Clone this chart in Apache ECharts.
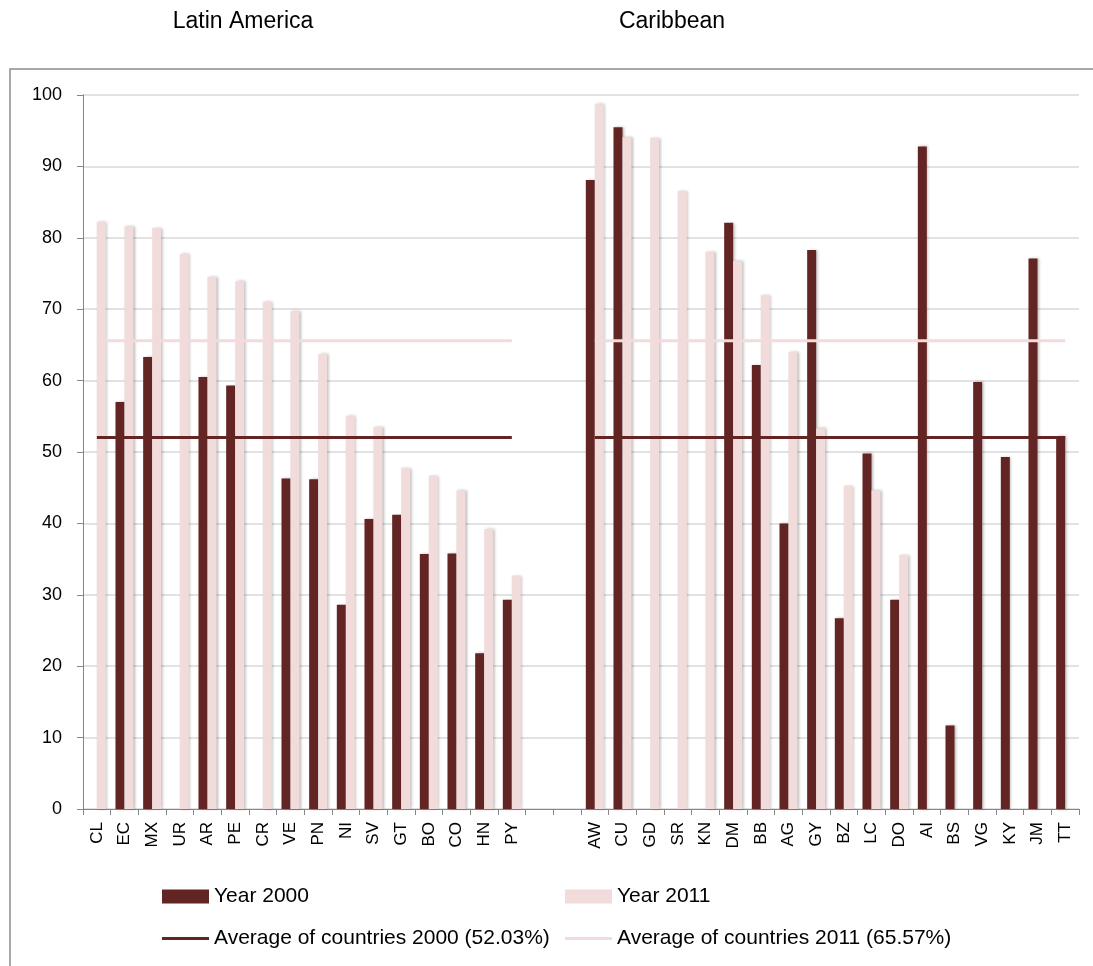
<!DOCTYPE html>
<html>
<head>
<meta charset="utf-8">
<title>Latin America and Caribbean, 2000 vs 2011</title>
<script src="https://cdn.jsdelivr.net/npm/echarts@6/dist/echarts.min.js"></script>
<style>
  html, body { margin: 0; padding: 0; background: #ffffff; }
  #chart { width: 1093px; height: 966px; }
</style>
</head>
<body>
<div id="chart"></div>
<script>
// Country codes, left block (Latin America) and right block (Caribbean)
const latinCountries = ['CL','EC','MX','UR','AR','PE','CR','VE','PN','NI','SV','GT','BO','CO','HN','PY'];
const caribCountries = ['AW','CU','GD','SR','KN','DM','BB','AG','GY','BZ','LC','DO','AI','BS','VG','KY','JM','TT'];

// Values (%) per country, null where no bar is drawn
const latin2000 = [null, 57.0, 63.3, null, 60.5, 59.3, null, 46.3, 46.2, 28.6, 40.6, 41.2, 35.7, 35.8, 21.8, 29.3];
const latin2011 = [82.2, 81.6, 81.4, 77.7, 74.5, 73.9, 71.0, 69.7, 63.7, 55.0, 53.5, 47.8, 46.7, 44.6, 39.2, 32.7];
const carib2000 = [88.1, 95.5, null, null, null, 82.1, 62.2, 40.0, 78.3, 26.7, 49.8, 29.3, 92.8, 11.7, 59.8, 49.3, 77.1, 52.2];
const carib2011 = [98.7, 94.1, 94.0, 86.6, 78.0, 76.7, 72.0, 64.0, 53.3, 45.3, 44.6, 35.6, null, null, null, null, null, null];

// Averages across countries
const avg2000 = 52.03;
const avg2011 = 65.57;

// Y axis scale
const yTicks = { min: 0, max: 100, interval: 10 };

// Two empty slots separate the blocks
const gapSlots = [' ', '  '];
const gapNulls = gapSlots.map(() => null);

const categories = latinCountries.concat(gapSlots, caribCountries);
const values2000 = latin2000.concat(gapNulls, carib2000);
const values2011 = latin2011.concat(gapNulls, carib2011);
const avgLine = (v) => latinCountries.map(() => v).concat(gapNulls, caribCountries.map(() => v));

const DARK = '#632523';
const PINK = '#F2DCDB';
const FONT = '"Liberation Sans", Arial, sans-serif';

const barShadow = {
  shadowColor: 'rgba(0,0,0,0.28)',
  shadowBlur: 3,
  shadowOffsetX: 1.5,
  shadowOffsetY: 0
};

const legendText = { fontSize: 21, color: '#000', fontFamily: FONT };

const chart = echarts.init(document.getElementById('chart'), null, { renderer: 'canvas' });

chart.setOption({
  animation: false,
  backgroundColor: '#ffffff',
  textStyle: { fontFamily: FONT },
  graphic: [
    {
      type: 'rect',
      z: -10,
      shape: { x: 10, y: 69, width: 1110, height: 930 },
      style: { fill: 'none', stroke: '#8c8c8c', lineWidth: 1.5 }
    },
    {
      type: 'text',
      x: 243, y: 22,
      style: { text: 'Latin America', font: '23px ' + FONT, fill: '#000', textAlign: 'center', textVerticalAlign: 'middle' }
    },
    {
      type: 'text',
      x: 672, y: 22,
      style: { text: 'Caribbean', font: '23px ' + FONT, fill: '#000', textAlign: 'center', textVerticalAlign: 'middle' }
    }
  ],
  grid: { left: 83, right: 14, top: 95, bottom: 157, containLabel: false },
  legend: [
    { data: ['Year 2000'], left: 162, top: 886, padding: 0, icon: 'rect', itemWidth: 47, itemHeight: 14, itemGap: 5,
      textStyle: legendText, selectedMode: false },
    { data: ['Year 2011'], left: 565, top: 886, padding: 0, icon: 'rect', itemWidth: 47, itemHeight: 14, itemGap: 5,
      textStyle: legendText, selectedMode: false },
    { data: ['Average of countries 2000 (52.03%)'], left: 162, top: 928, padding: 0, icon: 'rect', itemWidth: 47, itemHeight: 3,
      textStyle: legendText, selectedMode: false },
    { data: ['Average of countries 2011 (65.57%)'], left: 565, top: 928, padding: 0, icon: 'rect', itemWidth: 47, itemHeight: 3,
      textStyle: legendText, selectedMode: false }
  ],
  xAxis: {
    type: 'category',
    data: categories,
    boundaryGap: true,
    axisLine: { show: true, lineStyle: { color: '#868686', width: 1 } },
    axisTick: { show: true, interval: 0, length: 6, lineStyle: { color: '#868686' } },
    axisLabel: { interval: 0, rotate: 90, margin: 13, fontSize: 17, color: '#000', fontFamily: FONT },
    splitLine: { show: false }
  },
  yAxis: {
    type: 'value',
    min: yTicks.min,
    max: yTicks.max,
    interval: yTicks.interval,
    axisLine: { show: true, lineStyle: { color: '#868686', width: 1 } },
    axisTick: { show: true, length: 6, lineStyle: { color: '#868686' } },
    axisLabel: { margin: 21, fontSize: 18, color: '#000', fontFamily: FONT },
    splitLine: { show: true, lineStyle: { color: '#d9d9d9', width: 1.5 } }
  },
  series: [
    {
      name: 'Year 2000',
      type: 'bar',
      data: values2000,
      barWidth: 9,
      barGap: '0%',
      itemStyle: Object.assign({ color: DARK }, barShadow)
    },
    {
      name: 'Year 2011',
      type: 'bar',
      data: values2011,
      barWidth: 9,
      barGap: '0%',
      itemStyle: Object.assign({ color: PINK }, barShadow)
    },
    {
      name: 'Average of countries 2000 (52.03%)',
      type: 'line',
      data: avgLine(avg2000),
      symbol: 'none',
      connectNulls: false,
      z: 3,
      itemStyle: { color: DARK },
      lineStyle: { color: DARK, width: 3 }
    },
    {
      name: 'Average of countries 2011 (65.57%)',
      type: 'line',
      data: avgLine(avg2011),
      symbol: 'none',
      connectNulls: false,
      z: 3,
      itemStyle: { color: PINK },
      lineStyle: { color: PINK, width: 3 }
    }
  ]
});
</script>
</body>
</html>
